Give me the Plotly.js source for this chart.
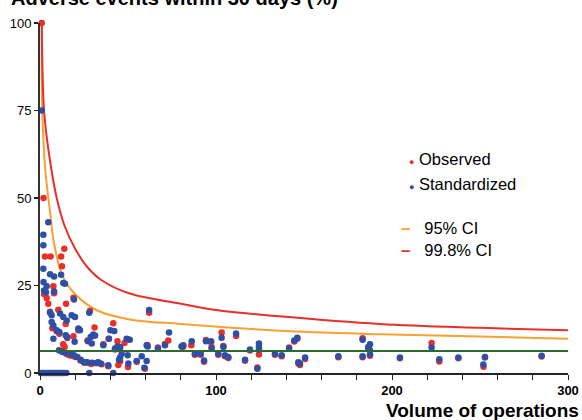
<!DOCTYPE html>
<html>
<head>
<meta charset="utf-8">
<script src="https://cdn.plot.ly/plotly-3.0.1.min.js"></script>
<style>html,body{margin:0;padding:0;background:#fff;}#chart{width:582px;height:420px;}</style>
</head>
<body>
<div id="chart"></div>
<script>
// Confidence limit curves
const ci998N = [1, 2.3, 5, 9.5, 14, 20, 26.5, 35, 51, 80, 100, 136, 193, 250, 300];
const ci998Y = [100, 75, 63, 50, 42, 35.5, 30.5, 26.5, 22.7, 19.8, 18, 16.2, 14, 12.9, 12.2];
const ci95N = [1, 1.3, 3, 5.5, 8, 13, 20, 32, 51, 80, 136, 193, 250, 300];
const ci95Y = [100, 75, 58, 47, 37, 27.5, 22.5, 18, 15.3, 14, 12.1, 11.1, 10.4, 9.8];
// Overall average
const avgN = [0, 300];
const avgY = [6.3, 6.3];
// Observed rates (red)
const obsN = [1, 2, 2.8, 6, 13.8, 12, 12.5, 7.6, 3.8, 4.7, 14.8, 19, 28.4, 10.4, 5.7, 14.6, 31, 19, 13.2, 14,
  41.6, 62, 72.9, 44, 48, 39, 36, 61, 67, 71, 80.5, 86, 88, 91.3, 93.2, 97.5, 103.2, 104.2, 105.1, 107,
  111.4, 116.5, 119.3, 124.4, 123.5, 133.5, 137.3, 141.5, 144.5, 146.2, 146.8, 147.7, 150.6, 169.5, 183.3, 183.3, 186.5, 187.5, 204.5, 222.5,
  226.9, 252, 252.8, 285, 237.7, 12, 15, 18, 20, 23, 26, 29, 32, 35, 45.5, 50, 55, 59.6, 38.8, 44.5,
  27, 30, 50.2, 22, 9.5, 7, 15.5, 21.8, 45.5, 42.6, 2.3, 8, 11, 16, 17.4, 25, 94.3, 97.2, 101.3, 81.4];
const obsY = [100, 50, 33.3, 33.3, 35.5, 33.3, 30.5, 24.8, 21.4, 19.8, 19.8, 21.5, 17.8, 18.1, 17.5, 14, 13, 10.5, 8.2, 7.4,
  14.2, 17.2, 9.3, 9.1, 8.6, 9.8, 8.2, 8, 7.3, 8.3, 7.6, 7.9, 5.2, 5.2, 3.2, 7.4, 11.6, 7.7, 4.8, 4.3,
  10.6, 3.5, 6.4, 5.3, 1.6, 5.2, 4.8, 7.3, 9, 9.8, 2.7, 2.3, 4, 4.5, 9.9, 4.5, 7.1, 4.9, 4.2, 8.6,
  3.3, 1.8, 4.4, 4.7, 4.2, 6.3, 5.5, 5, 4.6, 3.6, 2.9, 2.6, 2.8, 2.5, 3.3, 1.7, 3.2, 1.2, 1.9, 2.3,
  9.3, 10.6, 9.6, 12.6, 11.9, 12.8, 10, 12.2, 7.1, 6.7, 22.6, 22.8, 11.2, 5.2, 5.0, 3.0, 9.4, 8.8, 5.2, 7.5];
// Standardized rates (blue)
const stdN = [1, 4.7, 1.9, 1.9, 1.9, 5.7, 8, 12, 13.2, 14.2, 3.4, 2.3, 3.8, 8, 2, 19.3, 28, 5.7, 6.6, 11.4,
  13.2, 15.2, 18, 19.9, 6.6, 7.6, 9.5, 11, 21.8, 22.7, 7.6, 14.6, 15.5, 30.3, 28.8, 19.7, 27.3, 29.4, 40, 49.2,
  42.2, 39.2, 44, 51, 31.3, 36, 61.2, 67, 71, 62, 73.3, 42.6, 45.5, 60.6, 86.2,
  10.8, 12.7, 14.6, 17.4, 19.3, 21.2, 23.1, 25, 26.9, 29.7, 32.6, 34.5, 38.8, 33.1, 46.4, 45.5, 44.9, 49.8, 50.2, 54.9, 57.8, 60.6, 59.3,
  0.5, 1.5, 2.5, 3.5, 4.5, 5.5, 6.5, 7.5, 8.5, 9.5, 10.5, 11.5, 12.5, 13.5, 15, 28, 41.6,
  80.5, 81.4, 88, 91.3, 93.2, 94.3, 97.2, 97.5, 101.3, 103.2, 104.2, 105.1, 107, 111.4, 116.5, 119.3, 124.4, 124.4, 124.4, 123.5,
  133.5, 137.3, 141.5, 144.5, 146.2, 146.8, 147.7, 150.6, 169.5, 183.3, 183.3, 186.5, 187.5, 187.5, 187.5, 204.5, 222.5, 226.9, 237.7, 252.8, 251.9, 285];
const stdY = [75, 43.1, 39.5, 36.5, 29.8, 28.2, 27.6, 28.1, 25.7, 25.5, 23.1, 23.6, 24.8, 23.3, 26, 21, 17.2, 17.3, 16.5, 17,
  16, 15, 16.5, 16, 14.6, 13.6, 12.2, 11.7, 12.7, 12.2, 9.8, 10.8, 10.3, 11, 10.3, 8.9, 9.1, 8.4, 12.2, 9.8,
  12, 9.8, 7.6, 9.5, 10.7, 7.9, 7.6, 7, 7.9, 18, 11.6, 7, 7.4, 7.9, 9.1,
  6.5, 6, 5.7, 5.5, 5.1, 4.6, 3.8, 3.1, 3.1, 2.9, 2.9, 2.7, 2.2, 3.1, 5.5, 4.4, 3.8, 5.1, 2.7, 3.4, 4.8, 3.4, 1.5,
  0, 0, 0, 0, 0, 0, 0, 0, 0, 0, 0, 0, 0, 0, 0, 0, 0,
  7.6, 7.9, 5.5, 5.5, 3.6, 9.1, 9.1, 7, 5.5, 10.1, 7.4, 5.1, 4.6, 11.3, 3.8, 6.7, 8.4, 7.6, 6.7, 1.2,
  5.5, 5.1, 7, 9.3, 10.1, 3.1, 2.7, 4.4, 4.8, 9.5, 4.8, 7.4, 8.2, 6.5, 5.3, 4.4, 7.3, 3.9, 4.4, 4.6, 2.4, 4.9];

const RED = '#e8302a', BLUE = '#2d4fa6', ORANGE = '#f7a033', GREEN = '#2d6a2d';
const FONT = 'Liberation Sans, Arial, Helvetica, sans-serif';

const traces = [
  {x: ci95N, y: ci95Y, mode: 'lines', line: {color: ORANGE, width: 2, shape: 'spline'}, name: '95% CI', cliponaxis: false},
  {x: ci998N, y: ci998Y, mode: 'lines', line: {color: RED, width: 2, shape: 'spline'}, name: '99.8% CI', cliponaxis: false},
  {x: obsN, y: obsY, mode: 'markers', marker: {color: RED, size: 6.5}, name: 'Observed', cliponaxis: false},
  {x: stdN, y: stdY, mode: 'markers', marker: {color: BLUE, size: 6.5}, name: 'Standardized', cliponaxis: false},
  {x: avgN, y: avgY, mode: 'lines', line: {color: GREEN, width: 2}, name: 'Average', cliponaxis: false}
];

const legText = (sym, color, size, label) =>
  '<span style="color:' + color + ';font-size:' + size + 'px;font-weight:bold">' + sym + '</span>' + label;

const layout = {
  width: 582, height: 420,
  margin: {l: 40, r: 14, t: 23, b: 47, pad: 0},
  paper_bgcolor: '#fff', plot_bgcolor: '#fff',
  showlegend: false,
  font: {family: FONT, color: '#000', size: 12},
  xaxis: {
    range: [0, 300], dtick: 100, tick0: 0,
    showgrid: false, zeroline: false,
    showline: true, linecolor: '#222', linewidth: 1.5,
    ticks: 'outside', ticklen: 5, tickcolor: '#222', tickwidth: 1,
    minor: {dtick: 20, ticks: 'outside', ticklen: 5, tickcolor: '#222', tickwidth: 1},
    tickfont: {family: FONT, size: 13, color: '#000', weight: 'bold'}
  },
  yaxis: {
    range: [0, 100], dtick: 25, tick0: 0,
    showgrid: false, zeroline: false,
    showline: true, linecolor: '#333', linewidth: 2,
    ticks: 'outside', ticklen: 4, tickcolor: '#222', tickwidth: 1.5,
    tickfont: {family: FONT, size: 13, color: '#000'}
  },
  annotations: [
    {text: '<b>Adverse events within 30 days (%)</b>', xref: 'paper', yref: 'paper', x: -0.058, y: 1.033,
     xanchor: 'left', yanchor: 'bottom', showarrow: false, font: {family: FONT, size: 20, color: '#000'}},
    {text: '<b>Volume of operations</b>', xref: 'paper', yref: 'paper', x: 1.025, y: -0.072,
     xanchor: 'right', yanchor: 'top', showarrow: false, font: {family: FONT, size: 19, color: '#000'}},
    {text: legText('●', RED, 9, '&nbsp;Observed'), xref: 'paper', yref: 'paper', x: 0.696, y: 0.611,
     xanchor: 'left', yanchor: 'middle', showarrow: false, font: {family: FONT, size: 16.5}},
    {text: legText('●', BLUE, 9, '&nbsp;Standardized'), xref: 'paper', yref: 'paper', x: 0.696, y: 0.54,
     xanchor: 'left', yanchor: 'middle', showarrow: false, font: {family: FONT, size: 16.5}},
    {text: legText('–', ORANGE, 17, '&nbsp;&nbsp;&nbsp;95% CI'), xref: 'paper', yref: 'paper', x: 0.68, y: 0.414,
     xanchor: 'left', yanchor: 'middle', showarrow: false, font: {family: FONT, size: 16.5}},
    {text: legText('–', RED, 17, '&nbsp;&nbsp;&nbsp;99.8% CI'), xref: 'paper', yref: 'paper', x: 0.68, y: 0.351,
     xanchor: 'left', yanchor: 'middle', showarrow: false, font: {family: FONT, size: 16.5}}
  ]
};

Plotly.newPlot('chart', traces, layout, {displayModeBar: false, staticPlot: true});
</script>
</body>
</html>
